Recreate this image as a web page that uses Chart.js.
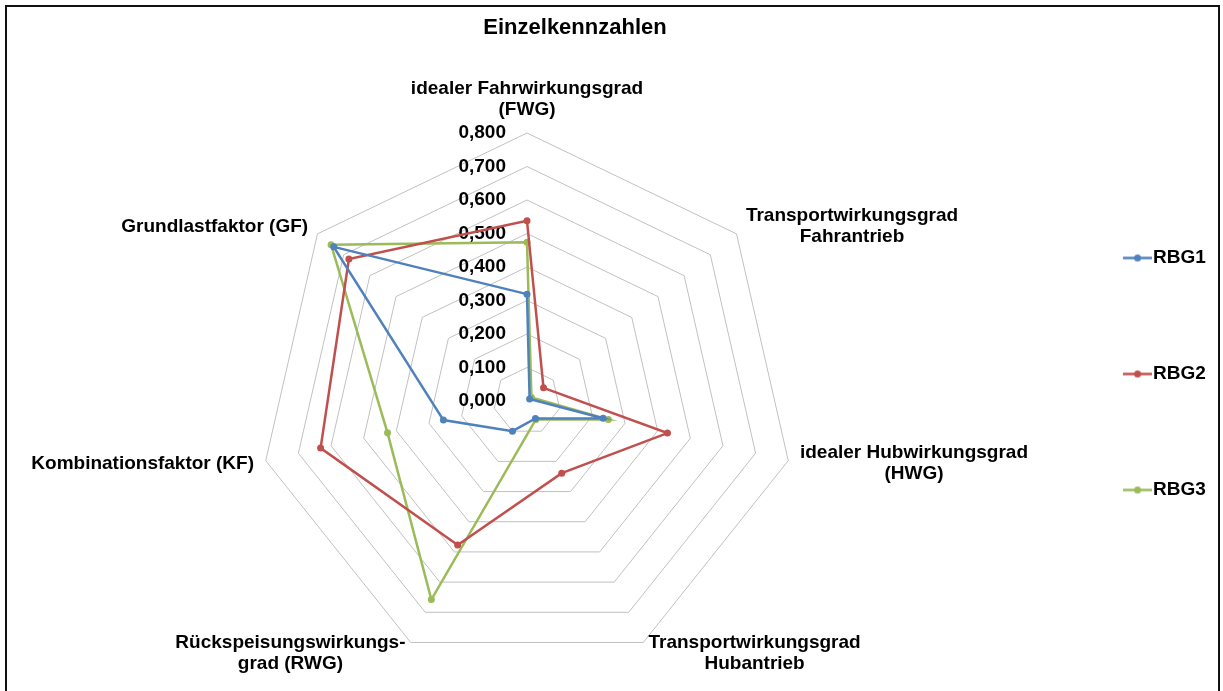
<!DOCTYPE html>
<html lang="de">
<head>
<meta charset="utf-8">
<title>Einzelkennzahlen</title>
<script src="https://cdn.jsdelivr.net/npm/chart.js@4.4.1/dist/chart.umd.min.js"></script>
<style>
  html, body { margin: 0; padding: 0; background: #fff; overflow: hidden; }
  #wrap { position: relative; width: 1223px; height: 691px; }
  #frame { position: absolute; left: 5px; top: 5px; width: 1215px; height: 720px; border: 2px solid #111; box-sizing: border-box; }
  #chart { position: absolute; left: 0; top: 0; }
</style>
</head>
<body>
<div id="wrap">
  <div id="frame"></div>
  <canvas id="chart" width="1223" height="691"></canvas>
</div>
<script>
const chartTitle = 'Einzelkennzahlen';
const categories = [
  ['idealer Fahrwirkungsgrad', '(FWG)'],
  ['Transportwirkungsgrad', 'Fahrantrieb'],
  ['idealer Hubwirkungsgrad', '(HWG)'],
  ['Transportwirkungsgrad', 'Hubantrieb'],
  ['Rückspeisungswirkungs-', 'grad (RWG)'],
  ['Kombinationsfaktor (KF)'],
  ['Grundlastfaktor (GF)']
];
const rbg1 = [0.319, 0.010, 0.233, 0.058, 0.100, 0.256, 0.738];
const rbg2 = [0.538, 0.063, 0.430, 0.239, 0.477, 0.632, 0.680];
const rbg3 = [0.474, 0.017, 0.249, 0.061, 0.658, 0.427, 0.748];
const seriesNames = ['RBG1', 'RBG2', 'RBG3'];
const seriesColors = ['#4f81bd', '#c0504d', '#9bbb59'];

const FONT = '"Liberation Sans", Arial, sans-serif';

// little line-with-dot sample for the legend
function legendMarker(color) {
  const c = document.createElement('canvas');
  c.width = 29; c.height = 9;
  const g = c.getContext('2d');
  g.strokeStyle = color;
  g.lineWidth = 2.5;
  g.beginPath(); g.moveTo(0, 4.5); g.lineTo(29, 4.5); g.stroke();
  g.fillStyle = color;
  g.beginPath(); g.arc(14.5, 4.5, 3.5, 0, Math.PI * 2); g.fill();
  return c;
}

// title, axis captions and the value labels on the vertical axis
const labelPlugin = {
  id: 'radarLabels',
  beforeDatasetsDraw(chart) {
    const r = chart.scales.r;
    const ctx = chart.ctx;
    ctx.save();
    ctx.font = 'bold 19px ' + FONT;
    ctx.fillStyle = '#000';
    ctx.textAlign = 'right';
    ctx.textBaseline = 'middle';
    r.ticks.forEach(t => {
      const y = r.getPointPositionForValue(0, t.value).y;
      ctx.fillText(t.label, r.xCenter - 21, y);
    });
    ctx.restore();
  },
  afterDraw(chart) {
    const r = chart.scales.r;
    const ctx = chart.ctx;
    ctx.save();
    ctx.fillStyle = '#000';
    ctx.textAlign = 'center';
    ctx.textBaseline = 'middle';
    ctx.font = 'bold 22px ' + FONT;
    ctx.fillText(chartTitle, 575, 28);

    ctx.font = 'bold 19px ' + FONT;
    const lh = 21.5;
    chart.data.labels.forEach((lines, i) => {
      const p = r.getPointPosition(i, r.drawingArea + 12);
      const cos = Math.cos(r.getIndexAngle(i) - Math.PI / 2);
      const w = Math.max(...lines.map(s => ctx.measureText(s).width));
      const h = lines.length * lh;
      let cx, top;
      if (Math.abs(cos) < 0.05) {
        cx = p.x; top = p.y - h;
      } else {
        cx = cos > 0 ? p.x + w / 2 : p.x - w / 2;
        top = p.y - h / 2;
      }
      lines.forEach((s, k) => ctx.fillText(s, cx, top + lh * (k + 0.5)));
    });
    ctx.restore();
  }
};

new Chart(document.getElementById('chart'), {
  type: 'radar',
  data: {
    labels: categories,
    datasets: [rbg1, rbg2, rbg3].map((values, i) => ({
      label: seriesNames[i],
      data: values,
      borderColor: seriesColors[i],
      backgroundColor: seriesColors[i],
      pointBackgroundColor: seriesColors[i],
      pointBorderColor: seriesColors[i],
      borderWidth: 2.5,
      pointRadius: 3.5,
      pointBorderWidth: 0,
      fill: false
    }))
  },
  options: {
    responsive: false,
    animation: false,
    devicePixelRatio: 1,
    layout: { padding: { left: 19.5, right: 7.2, top: 133, bottom: 22 } },
    scales: {
      r: {
        min: 0,
        max: 0.8,
        ticks: {
          display: false,
          stepSize: 0.1,
          callback: v => v.toFixed(3).replace('.', ',')
        },
        grid: { color: '#c0c0c0', lineWidth: 1 },
        angleLines: { display: false },
        pointLabels: { display: false }
      }
    },
    plugins: {
      title: { display: false },
      tooltip: { enabled: false },
      legend: {
        position: 'right',
        align: 'start',
        title: { display: true, text: '', font: { size: 10 }, padding: { top: 0, bottom: 6.5 } },
        labels: {
          usePointStyle: true,
          pointStyleWidth: 12,
          padding: 97,
          color: '#000',
          font: { family: FONT, size: 19, weight: 'bold' },
          generateLabels: chart => chart.data.datasets.map((ds, i) => ({
            text: ds.label,
            pointStyle: legendMarker(ds.borderColor),
            fillStyle: ds.borderColor,
            strokeStyle: ds.borderColor,
            fontColor: '#000',
            lineWidth: 0,
            hidden: !chart.isDatasetVisible(i),
            datasetIndex: i
          }))
        }
      }
    }
  },
  plugins: [labelPlugin]
});
</script>
</body>
</html>
